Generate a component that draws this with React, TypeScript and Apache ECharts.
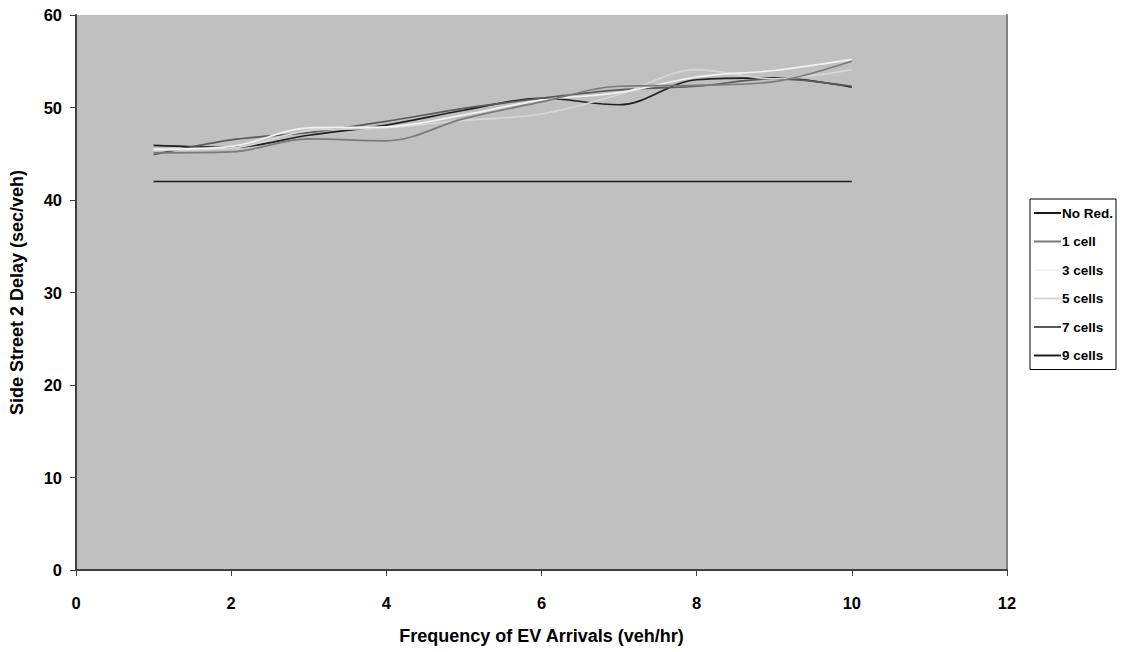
import React, { useEffect, useRef } from "react";
import * as echarts from "echarts";

const xValues = [1, 2, 3, 4, 5, 6, 7, 8, 9, 10];
const seriesNames = ["No Red.", "1 cell", "3 cells", "5 cells", "7 cells", "9 cells"];
const noRed = [42, 42, 42, 42, 42, 42, 42, 42, 42, 42];
const cell1 = [45.1, 45.2, 46.6, 46.4, 48.8, 50.6, 52.3, 52.4, 52.8, 55.0];
const cells3 = [45.5, 45.8, 47.8, 47.9, 49.2, 50.8, 51.6, 53.3, 54.0, 55.2];
const cells5 = [45.4, 45.6, 47.5, 47.8, 48.6, 49.3, 51.4, 54.1, 53.1, 54.1];
const cells7 = [44.9, 46.5, 47.3, 48.5, 49.9, 51.0, 51.9, 52.3, 53.1, 52.3];
const cells9 = [45.9, 45.7, 47.0, 48.1, 49.7, 51.0, 50.3, 53.0, 53.2, 52.2];
const seriesValues = [noRed, cell1, cells3, cells5, cells7, cells9];
const seriesColors = ["#1a1a1a", "#7a7a7a", "#f2f2f2", "#d6d6d6", "#5a5a5a", "#202020"];

const FONT = "'Liberation Sans', Arial, sans-serif";

export default function App() {
  const ref = useRef<HTMLDivElement>(null);
  useEffect(() => {
    if (!ref.current) return;
    const chart = echarts.init(ref.current, null, { renderer: "svg" });
    const axisLabel = { color: "#000", fontWeight: "bold", fontSize: 16.5, fontFamily: FONT };
    const nameStyle = { color: "#000", fontWeight: "bold", fontSize: 18, fontFamily: FONT };
    chart.setOption({
      animation: false,
      backgroundColor: "#ffffff",
      textStyle: { fontFamily: FONT },
      grid: {
        left: 76,
        right: 125,
        top: 15,
        bottom: 82,
        show: true,
        backgroundColor: "#c0c0c0",
        borderWidth: 0,
      },
      legend: {
        orient: "vertical",
        left: 1030,
        top: 199,
        backgroundColor: "#ffffff",
        borderColor: "#000",
        borderWidth: 1,
        borderRadius: 0,
        padding: [7, 3, 7, 4],
        itemGap: 14.5,
        itemWidth: 27,
        itemHeight: 2,
        icon: "rect",
        data: seriesNames,
        textStyle: { color: "#000", fontWeight: "bold", fontSize: 13.5, fontFamily: FONT, padding: [0, 0, 0, -4] },
      },
      xAxis: {
        type: "value",
        min: 0,
        max: 12,
        interval: 2,
        name: "Frequency of EV Arrivals (veh/hr)",
        nameLocation: "middle",
        nameGap: 57,
        nameTextStyle: nameStyle,
        axisLine: { show: true, onZero: false, lineStyle: { color: "#404040", width: 2 } },
        axisTick: { show: true, inside: false, length: 6, lineStyle: { color: "#404040" } },
        axisLabel: { ...axisLabel, margin: 24 },
        splitLine: { show: false },
      },
      yAxis: [
        {
          type: "value",
          min: 0,
          max: 60,
          interval: 10,
          name: "Side Street 2 Delay (sec/veh)",
          nameLocation: "middle",
          nameGap: 50,
          nameRotate: 90,
          nameTextStyle: nameStyle,
          axisLine: { show: true, lineStyle: { color: "#404040", width: 2 } },
          axisTick: { show: true, inside: false, length: 6, lineStyle: { color: "#404040" } },
          axisLabel: { ...axisLabel, margin: 14 },
          splitLine: { show: false },
        },
        {
          type: "value",
          position: "right",
          min: 0,
          max: 60,
          interval: 10,
          axisLine: { show: true, lineStyle: { color: "#808080", width: 2 } },
          axisTick: { show: false },
          axisLabel: { show: false },
          splitLine: { show: false },
        },
      ],
      series: seriesNames.map((name, i) => ({
        name,
        type: "line",
        yAxisIndex: 0,
        data: xValues.map((x, j) => [x, seriesValues[i][j]]),
        smooth: i === 0 ? false : 0.35,
        showSymbol: false,
        symbol: "none",
        z: 10 - i,
        color: seriesColors[i],
        lineStyle: { color: seriesColors[i], width: 1.7 },
      })),
    });
    return () => chart.dispose();
  }, []);
  return <div ref={ref} style={{ width: 1132, height: 652, position: "absolute", left: 0, top: 0 }} />;
}
